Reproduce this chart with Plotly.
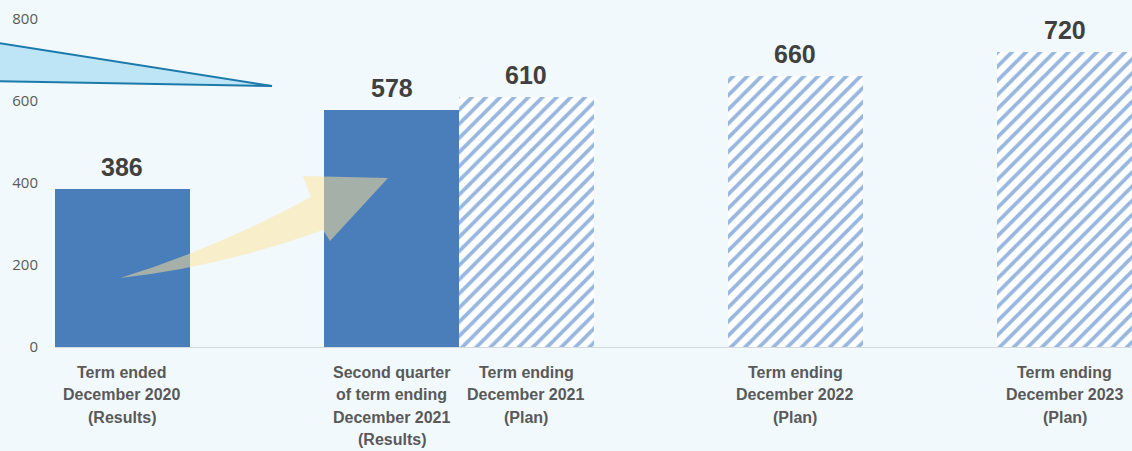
import plotly.graph_objects as go

# ---- data ----
categories = [
    "Term ended<br>December 2020<br>(Results)",
    "Second quarter<br>of term ending<br>December 2021<br>(Results)",
    "Term ending<br>December 2021<br>(Plan)",
    "Term ending<br>December 2022<br>(Plan)",
    "Term ending<br>December 2023<br>(Plan)",
]
values = [386, 578, 610, 660, 720]
kinds = ["Results", "Results", "Plan", "Plan", "Plan"]
y_ticks = [0, 200, 400, 600, 800]

# ---- layout constants ----
W_PX, H_PX = 1132, 451
M_L, M_R, M_T, M_B = 55, 0, 19, 104
PLOT_W = W_PX - M_L - M_R
PLOT_H = H_PX - M_T - M_B
SLOTS = [0, 2, 3, 5, 7]          # horizontal slot of each column
X_RANGE = [-0.5, 7.5]
LABEL_TOP_PX = 372               # centre of the first label line
LABEL_STEP_PX = 22.6             # line pitch of the category labels

BG = "#F1F9FD"
BLUE = "#4A7EBB"
HATCH = "#97B6E0"
TXT_DARK = "#404040"
TXT_GREY = "#595959"


def px_x(p):
    return (p - M_L) / PLOT_W


def px_y(p):
    return (H_PX - M_B - p) / PLOT_H


fig = go.Figure()

res_idx = [i for i, k in enumerate(kinds) if k == "Results"]
plan_idx = [i for i, k in enumerate(kinds) if k == "Plan"]

fig.add_trace(go.Bar(
    x=[SLOTS[i] for i in res_idx],
    y=[values[i] for i in res_idx],
    width=1.0,
    marker=dict(color=BLUE, line=dict(width=0)),
    hoverinfo="skip",
    showlegend=False,
))
fig.add_trace(go.Bar(
    x=[SLOTS[i] for i in plan_idx],
    y=[values[i] for i in plan_idx],
    width=1.0,
    marker=dict(
        color="white",
        line=dict(width=0),
        pattern=dict(shape="/", fgcolor=HATCH, bgcolor="white",
                     size=10, solidity=0.38, fillmode="replace"),
    ),
    hoverinfo="skip",
    showlegend=False,
))

annotations = []
# value labels above each column
for i, v in enumerate(values):
    annotations.append(dict(
        x=SLOTS[i], y=v, xref="x", yref="y",
        text=f"<b>{v}</b>", showarrow=False,
        yanchor="bottom", yshift=6,
        font=dict(family="Liberation Sans, Arial, sans-serif", size=25, color=TXT_DARK),
    ))
# category labels under the axis, one annotation per line
for i, c in enumerate(categories):
    for k, line in enumerate(c.split("<br>")):
        annotations.append(dict(
            x=SLOTS[i], y=px_y(LABEL_TOP_PX + k * LABEL_STEP_PX),
            xref="x", yref="paper",
            text=f"<b>{line}</b>", showarrow=False,
            yanchor="middle", align="center",
            font=dict(family="Liberation Sans, Arial, sans-serif",
                      size=16, color=TXT_GREY),
        ))


def path_from_px(cmds):
    out = []
    for c in cmds:
        if isinstance(c, str):
            out.append(c)
        else:
            out.append(f"{px_x(c[0]):.5f},{px_y(c[1]):.5f}")
    return " ".join(out)


# callout wedge at the upper left
callout = path_from_px(["M", (-20, 40), "L", (272, 86), "L", (-20, 81), "Z"])
# curved growth arrow between the results columns
arrow = path_from_px([
    "M", (120, 278),
    "Q", (220, 267), (323, 230),
    "L", (330, 241),
    "L", (388, 178),
    "L", (303, 176),
    "L", (311, 197),
    "Q", (215, 249), (120, 278),
    "Z",
])

shapes = [
    dict(type="path", path=callout, xref="paper", yref="paper",
         fillcolor="#BDE5F6", line=dict(color="#1C7AAA", width=2), layer="above"),
    dict(type="path", path=arrow, xref="paper", yref="paper",
         fillcolor="rgba(255,228,150,0.5)", line=dict(width=0), layer="above"),
]

fig.update_layout(
    width=W_PX, height=H_PX, autosize=False,
    margin=dict(l=M_L, r=M_R, t=M_T, b=M_B, pad=0),
    paper_bgcolor=BG, plot_bgcolor=BG,
    barmode="overlay", bargap=0,
    showlegend=False,
    annotations=annotations,
    shapes=shapes,
    xaxis=dict(
        range=X_RANGE, showgrid=False, zeroline=False,
        showticklabels=False, ticks="",
        showline=True, linecolor="#D5DCE0", linewidth=1,
        fixedrange=True,
    ),
    yaxis=dict(
        range=[0, 800], tickvals=y_ticks, showgrid=False, zeroline=False,
        showline=False, ticks="", ticklabelstandoff=16,
        tickfont=dict(family="Open Sans, Liberation Sans, sans-serif", size=15, color=TXT_GREY),
        fixedrange=True,
    ),
)

fig.write_html("out.html", config={"displayModeBar": False})
